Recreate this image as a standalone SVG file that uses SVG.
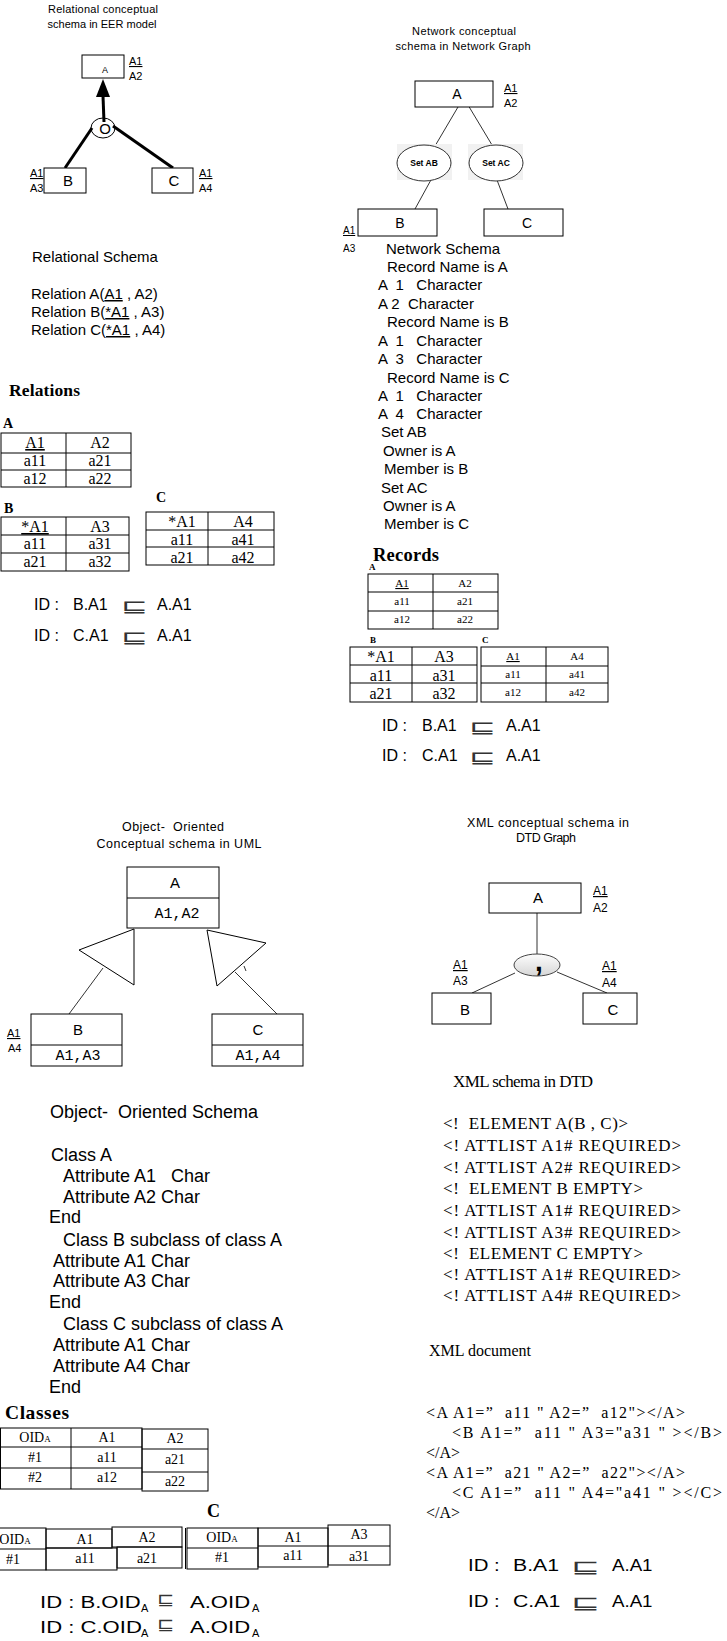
<svg xmlns="http://www.w3.org/2000/svg" width="727" height="1641" viewBox="0 0 727 1641">
<style>
.s{font-family:"Liberation Sans",Arial,sans-serif;fill:#000;white-space:pre}
.t{font-family:"Liberation Serif","Times New Roman",serif;fill:#000;white-space:pre}
.m{font-family:"Liberation Mono","Courier New",monospace;fill:#000}
.b{font-weight:bold}
.u{text-decoration:underline}
.mid{text-anchor:middle}
.box{fill:#fff;stroke:#000;stroke-width:1}
.ln{stroke:#333;stroke-width:1;fill:none}
.tk{stroke:#000;stroke-width:3;fill:none}
.tb{fill:none;stroke:#000;stroke-width:1}
.sym{font-family:"DejaVu Sans",sans-serif;fill:#333}
</style>
<defs>
<linearGradient id="gr" x1="0" y1="0" x2="0" y2="1">
<stop offset="0" stop-color="#fdfdfd"/>
<stop offset="1" stop-color="#d6d6d6"/>
</linearGradient>
</defs>
<rect width="727" height="1641" fill="#fff"/>

<!-- ===== Connectors ===== -->
<g id="connectors">
  <!-- EER -->
  <polygon points="103,79 96,97 110,97" fill="#000"/>
  <line class="tk" x1="103" y1="96" x2="104" y2="122"/>
  <line class="tk" x1="92" y1="128" x2="65" y2="168"/>
  <line class="tk" x1="113" y1="126" x2="173" y2="168"/>
  <!-- Network -->
  <line class="ln" x1="458" y1="107" x2="435" y2="146"/>
  <line class="ln" x1="468" y1="105" x2="498" y2="155"/>
  <line class="ln" x1="432" y1="178" x2="415" y2="209"/>
  <line class="ln" x1="497" y1="180" x2="508" y2="209"/>
  <!-- UML -->
  <polygon points="134,929 134,985 79,950" fill="#fff" stroke="#000" stroke-width="1"/>
  <polygon points="207,930 266,943 217,986" fill="#fff" stroke="#000" stroke-width="1"/>
  <line class="ln" x1="103" y1="968" x2="69" y2="1014"/>
  <line class="ln" x1="235" y1="972" x2="277" y2="1014"/>
  <line class="ln" x1="244" y1="966" x2="246" y2="971"/>
  <!-- DTD -->
  <line class="ln" x1="537" y1="913" x2="537" y2="955"/>
  <line class="ln" x1="515" y1="973" x2="472" y2="993"/>
  <line class="ln" x1="557" y1="972" x2="607" y2="993"/>
</g>

<!-- ===== EER diagram ===== -->
<g id="eer-title">
  <text class="s mid" x="103" y="13" font-size="11" textLength="110">Relational conceptual</text>
  <text class="s mid" x="102" y="28" font-size="11" textLength="109">schema in EER model</text>
</g>
<g id="eer-A">
  <rect class="box" x="82" y="55" width="42" height="23"/>
  <text class="s mid" x="105" y="73" font-size="9">A</text>
  <text class="s u" x="129" y="65" font-size="11">A1</text>
  <text class="s" x="129" y="80" font-size="11">A2</text>
</g>
<g id="eer-d">
  <ellipse cx="103" cy="128" rx="12" ry="10" fill="none" stroke="#000" stroke-width="1"/>
  <text class="s mid" x="105" y="134" font-size="15">O</text>
</g>
<g id="eer-B">
  <rect class="box" x="44" y="168" width="42" height="25"/>
  <text class="s mid" x="68" y="186" font-size="15">B</text>
  <text class="s u" x="30" y="177" font-size="11">A1</text>
  <text class="s" x="30" y="192" font-size="11">A3</text>
</g>
<g id="eer-C">
  <rect class="box" x="152" y="168" width="41" height="25"/>
  <text class="s mid" x="174" y="186" font-size="15">C</text>
  <text class="s u" x="199" y="177" font-size="11">A1</text>
  <text class="s" x="199" y="192" font-size="11">A4</text>
</g>

<!-- ===== Relational schema text ===== -->
<g id="relational-schema">
  <text class="s" x="32" y="262" font-size="15">Relational Schema</text>
  <text class="s" x="31" y="299" font-size="15">Relation A(<tspan class="u">A1</tspan> , A2)</text>
  <text class="s" x="31" y="317" font-size="15">Relation B(<tspan class="u">*A1</tspan> , A3)</text>
  <text class="s" x="31" y="335" font-size="15">Relation C(<tspan class="u">*A1</tspan> , A4)</text>
</g>

<g id="relations">
  <text class="t b" x="9" y="396" font-size="17.5" textLength="71">Relations</text>
  <text class="t b" x="3" y="428" font-size="14">A</text>
  <rect class="tb" x="1" y="433" width="130" height="54"/>
  <line class="tb" x1="1" y1="453" x2="131" y2="453"/>
  <line class="tb" x1="1" y1="470" x2="131" y2="470"/>
  <line class="tb" x1="66" y1="433" x2="66" y2="487"/>
  <text class="t mid u" x="35" y="448" font-size="16">A1</text>
  <text class="t mid" x="100" y="448" font-size="16">A2</text>
  <text class="t mid" x="35" y="466" font-size="16">a11</text>
  <text class="t mid" x="100" y="466" font-size="16">a21</text>
  <text class="t mid" x="35" y="484" font-size="16">a12</text>
  <text class="t mid" x="100" y="484" font-size="16">a22</text>

  <text class="t b" x="4" y="513" font-size="14">B</text>
  <rect class="tb" x="1" y="517" width="128" height="54"/>
  <line class="tb" x1="1" y1="535" x2="129" y2="535"/>
  <line class="tb" x1="1" y1="553" x2="129" y2="553"/>
  <line class="tb" x1="66" y1="517" x2="66" y2="571"/>
  <text class="t mid u" x="35" y="532" font-size="16">*A1</text>
  <text class="t mid" x="100" y="532" font-size="16">A3</text>
  <text class="t mid" x="35" y="549" font-size="16">a11</text>
  <text class="t mid" x="100" y="549" font-size="16">a31</text>
  <text class="t mid" x="35" y="567" font-size="16">a21</text>
  <text class="t mid" x="100" y="567" font-size="16">a32</text>

  <text class="t b" x="156" y="502" font-size="14">C</text>
  <rect class="tb" x="146" y="512" width="128" height="53"/>
  <line class="tb" x1="146" y1="530" x2="274" y2="530"/>
  <line class="tb" x1="146" y1="547" x2="274" y2="547"/>
  <line class="tb" x1="208" y1="512" x2="208" y2="565"/>
  <text class="t mid" x="182" y="527" font-size="16">*A1</text>
  <text class="t mid" x="243" y="527" font-size="16">A4</text>
  <text class="t mid" x="182" y="545" font-size="16">a11</text>
  <text class="t mid" x="243" y="545" font-size="16">a41</text>
  <text class="t mid" x="182" y="563" font-size="16">a21</text>
  <text class="t mid" x="243" y="563" font-size="16">a42</text>
</g>

<g id="relational-ids">
  <text class="s" x="34" y="610" font-size="16">ID :</text>
  <text class="s" x="73" y="610" font-size="16">B.A1</text>
  <text class="sym" font-size="20" transform="translate(121,612) scale(1.6,0.85)">⊑</text>
  <text class="s" x="157" y="610" font-size="16">A.A1</text>
  <text class="s" x="34" y="641" font-size="16">ID :</text>
  <text class="s" x="73" y="641" font-size="16">C.A1</text>
  <text class="sym" font-size="20" transform="translate(121,643) scale(1.6,0.85)">⊑</text>
  <text class="s" x="157" y="641" font-size="16">A.A1</text>
</g>

<!-- ===== Network diagram ===== -->
<g id="net-title">
  <text class="s mid" x="464" y="35" font-size="11" textLength="104">Network conceptual</text>
  <text class="s mid" x="463" y="50" font-size="11" textLength="135">schema in Network Graph</text>
</g>
<g id="net-A">
  <rect class="box" x="415" y="81" width="78" height="26"/>
  <text class="s mid" x="457" y="99" font-size="14">A</text>
  <text class="s u" x="504" y="92" font-size="11">A1</text>
  <text class="s" x="504" y="107" font-size="11">A2</text>
</g>
<g id="net-setAB">
  <rect x="397" y="144" width="55" height="36" fill="#f1f1f1"/>
  <ellipse cx="424" cy="163" rx="27" ry="18" fill="#fff" stroke="#333" stroke-width="1"/>
  <text class="s b mid" x="424" y="166" font-size="8.5">Set AB</text>
</g>
<g id="net-setAC">
  <rect x="468" y="144" width="55" height="36" fill="#f1f1f1"/>
  <ellipse cx="496" cy="163" rx="27" ry="18" fill="#fff" stroke="#333" stroke-width="1"/>
  <text class="s b mid" x="496" y="166" font-size="8.5">Set AC</text>
</g>
<g id="net-B">
  <rect class="box" x="358" y="209" width="79" height="27"/>
  <text class="s mid" x="400" y="228" font-size="14">B</text>
  <text class="s u" x="343" y="234" font-size="10">A1</text>
  <text class="s" x="343" y="252" font-size="10">A3</text>
</g>
<g id="net-C">
  <rect class="box" x="484" y="209" width="79" height="27"/>
  <text class="s mid" x="527" y="228" font-size="14">C</text>
</g>

<g id="network-schema">
  <text class="s" x="386" y="254" font-size="15">Network Schema</text>
  <text class="s" x="387" y="272" font-size="15">Record Name is A</text>
  <text class="s" x="378" y="290" font-size="15">A  1   Character</text>
  <text class="s" x="378" y="309" font-size="15">A 2  Character</text>
  <text class="s" x="387" y="327" font-size="15">Record Name is B</text>
  <text class="s" x="378" y="346" font-size="15">A  1   Character</text>
  <text class="s" x="378" y="364" font-size="15">A  3   Character</text>
  <text class="s" x="387" y="383" font-size="15">Record Name is C</text>
  <text class="s" x="378" y="401" font-size="15">A  1   Character</text>
  <text class="s" x="378" y="419" font-size="15">A  4   Character</text>
  <text class="s" x="381" y="437" font-size="15">Set AB</text>
  <text class="s" x="383" y="456" font-size="15">Owner is A</text>
  <text class="s" x="384" y="474" font-size="15">Member is B</text>
  <text class="s" x="381" y="493" font-size="15">Set AC</text>
  <text class="s" x="383" y="511" font-size="15">Owner is A</text>
  <text class="s" x="384" y="529" font-size="15">Member is C</text>
</g>

<g id="records">
  <text class="t b" x="373" y="561" font-size="18.5" textLength="66">Records</text>
  <text class="t b" x="369" y="570" font-size="9">A</text>
  <rect class="tb" x="368" y="574" width="130" height="55"/>
  <line class="tb" x1="368" y1="592" x2="498" y2="592"/>
  <line class="tb" x1="368" y1="611" x2="498" y2="611"/>
  <line class="tb" x1="433" y1="574" x2="433" y2="629"/>
  <text class="t mid u" x="402" y="587" font-size="11">A1</text>
  <text class="t mid" x="465" y="587" font-size="11">A2</text>
  <text class="t mid" x="402" y="605" font-size="11">a11</text>
  <text class="t mid" x="465" y="605" font-size="11">a21</text>
  <text class="t mid" x="402" y="623" font-size="11">a12</text>
  <text class="t mid" x="465" y="623" font-size="11">a22</text>

  <text class="t b" x="370" y="643" font-size="9">B</text>
  <rect class="tb" x="350" y="647" width="127" height="55"/>
  <line class="tb" x1="350" y1="665" x2="477" y2="665"/>
  <line class="tb" x1="350" y1="683" x2="477" y2="683"/>
  <line class="tb" x1="412" y1="647" x2="412" y2="702"/>
  <text class="t mid" x="381" y="662" font-size="16">*A1</text>
  <text class="t mid" x="444" y="662" font-size="16">A3</text>
  <text class="t mid" x="381" y="681" font-size="16">a11</text>
  <text class="t mid" x="444" y="681" font-size="16">a31</text>
  <text class="t mid" x="381" y="699" font-size="16">a21</text>
  <text class="t mid" x="444" y="699" font-size="16">a32</text>

  <text class="t b" x="482" y="643" font-size="9">C</text>
  <rect class="tb" x="481" y="647" width="127" height="55"/>
  <line class="tb" x1="481" y1="666" x2="608" y2="666"/>
  <line class="tb" x1="481" y1="683" x2="608" y2="683"/>
  <line class="tb" x1="546" y1="647" x2="546" y2="702"/>
  <text class="t mid u" x="513" y="660" font-size="11">A1</text>
  <text class="t mid" x="577" y="660" font-size="11">A4</text>
  <text class="t mid" x="513" y="678" font-size="11">a11</text>
  <text class="t mid" x="577" y="678" font-size="11">a41</text>
  <text class="t mid" x="513" y="696" font-size="11">a12</text>
  <text class="t mid" x="577" y="696" font-size="11">a42</text>
</g>

<g id="network-ids">
  <text class="s" x="382" y="731" font-size="16">ID :</text>
  <text class="s" x="422" y="731" font-size="16">B.A1</text>
  <text class="sym" font-size="20" transform="translate(469,733) scale(1.6,0.85)">⊑</text>
  <text class="s" x="506" y="731" font-size="16">A.A1</text>
  <text class="s" x="382" y="761" font-size="16">ID :</text>
  <text class="s" x="422" y="761" font-size="16">C.A1</text>
  <text class="sym" font-size="20" transform="translate(469,763) scale(1.6,0.85)">⊑</text>
  <text class="s" x="506" y="761" font-size="16">A.A1</text>
</g>

<!-- ===== UML diagram ===== -->
<g id="uml-title">
  <text class="s mid" x="173" y="831" font-size="12.5" textLength="102">Object-  Oriented</text>
  <text class="s mid" x="179" y="848" font-size="12.5" textLength="165">Conceptual schema in UML</text>
</g>
<g id="uml-A">
  <rect class="box" x="127" y="867" width="92" height="61"/>
  <line class="tb" x1="127" y1="898" x2="219" y2="898"/>
  <text class="s mid" x="175" y="888" font-size="15">A</text>
  <text class="m mid" x="177" y="918" font-size="15">A1,A2</text>
</g>
<g id="uml-B">
  <rect class="box" x="31" y="1014" width="91" height="52"/>
  <line class="tb" x1="31" y1="1045" x2="122" y2="1045"/>
  <text class="s mid" x="78" y="1035" font-size="15">B</text>
  <text class="m mid" x="78" y="1060" font-size="15">A1,A3</text>
  <text class="s u" x="7" y="1037" font-size="11">A1</text>
  <text class="s" x="8" y="1052" font-size="11">A4</text>
</g>
<g id="uml-C">
  <rect class="box" x="212" y="1014" width="91" height="52"/>
  <line class="tb" x1="212" y1="1045" x2="303" y2="1045"/>
  <text class="s mid" x="258" y="1035" font-size="15">C</text>
  <text class="m mid" x="258" y="1060" font-size="15">A1,A4</text>
</g>

<g id="oo-schema">
  <text class="s" x="50" y="1118" font-size="18">Object-  Oriented Schema</text>
  <text class="s" x="51" y="1161" font-size="18">Class A</text>
  <text class="s" x="63" y="1182" font-size="18">Attribute A1   Char</text>
  <text class="s" x="63" y="1203" font-size="18">Attribute A2 Char</text>
  <text class="s" x="49" y="1223" font-size="18">End</text>
  <text class="s" x="63" y="1246" font-size="18">Class B subclass of class A</text>
  <text class="s" x="53" y="1267" font-size="18">Attribute A1 Char</text>
  <text class="s" x="53" y="1287" font-size="18">Attribute A3 Char</text>
  <text class="s" x="49" y="1308" font-size="18">End</text>
  <text class="s" x="63" y="1330" font-size="18">Class C subclass of class A</text>
  <text class="s" x="53" y="1351" font-size="18">Attribute A1 Char</text>
  <text class="s" x="53" y="1372" font-size="18">Attribute A4 Char</text>
  <text class="s" x="49" y="1393" font-size="18">End</text>
</g>

<g id="classes">
  <text class="t b" x="5" y="1419" font-size="19.5" textLength="64">Classes</text>
  <rect class="tb" x="0.5" y="1428" width="141.5" height="61"/>
  <line class="tb" x1="71" y1="1428" x2="71" y2="1489"/>
  <line class="tb" x1="0.5" y1="1447" x2="142" y2="1447"/>
  <line class="tb" x1="0.5" y1="1468" x2="142" y2="1468"/>
  <rect class="tb" x="142" y="1429" width="66" height="62"/>
  <line class="tb" x1="142" y1="1449" x2="208" y2="1449"/>
  <line class="tb" x1="142" y1="1472" x2="208" y2="1472"/>
  <text class="t mid" x="35" y="1442" font-size="14">OID<tspan font-size="9">A</tspan></text>
  <text class="t mid" x="107" y="1442" font-size="14">A1</text>
  <text class="t mid" x="175" y="1443" font-size="14">A2</text>
  <text class="t mid" x="35" y="1462" font-size="14">#1</text>
  <text class="t mid" x="107" y="1462" font-size="14">a11</text>
  <text class="t mid" x="175" y="1464" font-size="14">a21</text>
  <text class="t mid" x="35" y="1482" font-size="14">#2</text>
  <text class="t mid" x="107" y="1482" font-size="14">a12</text>
  <text class="t mid" x="175" y="1486" font-size="14">a22</text>

  <rect class="tb" x="-15" y="1528" width="61" height="42"/>
  <line class="tb" x1="-15" y1="1549" x2="46" y2="1549"/>
  <rect class="tb" x="46" y="1529" width="66" height="19"/>
  <rect class="tb" x="46" y="1548" width="71" height="22"/>
  <rect class="tb" x="112" y="1527" width="70" height="20"/>
  <rect class="tb" x="117" y="1547" width="65" height="21"/>
  <text class="t mid" x="15" y="1544" font-size="14">OID<tspan font-size="9">A</tspan></text>
  <text class="t mid" x="13" y="1564" font-size="14">#1</text>
  <text class="t mid" x="85" y="1544" font-size="14">A1</text>
  <text class="t mid" x="147" y="1542" font-size="14">A2</text>
  <text class="t mid" x="85" y="1563" font-size="14">a11</text>
  <text class="t mid" x="147" y="1563" font-size="14">a21</text>

  <text class="t b" x="207" y="1517" font-size="18">C</text>
  <line class="tb" x1="185.5" y1="1528" x2="185.5" y2="1569"/>
  <rect class="tb" x="187" y="1528" width="71" height="41"/>
  <line class="tb" x1="187" y1="1548" x2="258" y2="1548"/>
  <rect class="tb" x="258" y="1528" width="70" height="39"/>
  <line class="tb" x1="258" y1="1546" x2="328" y2="1546"/>
  <rect class="tb" x="328" y="1525" width="62" height="40"/>
  <line class="tb" x1="328" y1="1546" x2="390" y2="1546"/>
  <text class="t mid" x="222" y="1542" font-size="14">OID<tspan font-size="9">A</tspan></text>
  <text class="t mid" x="293" y="1542" font-size="14">A1</text>
  <text class="t mid" x="359" y="1539" font-size="14">A3</text>
  <text class="t mid" x="222" y="1562" font-size="14">#1</text>
  <text class="t mid" x="293" y="1560" font-size="14">a11</text>
  <text class="t mid" x="359" y="1561" font-size="14">a31</text>
</g>

<g id="oo-ids">
  <text class="s" font-size="17" transform="translate(40,1608) scale(1.3,1)">ID : B.OID</text>
  <text class="s" x="141" y="1612" font-size="11">A</text>
  <text class="sym" font-size="18" transform="translate(157,1605) scale(1.15,0.9)">⊑</text>
  <text class="s" font-size="17" transform="translate(190,1608) scale(1.3,1)">A.OID</text>
  <text class="s" x="252" y="1612" font-size="11">A</text>
  <text class="s" font-size="17" transform="translate(40,1633) scale(1.3,1)">ID : C.OID</text>
  <text class="s" x="141" y="1637" font-size="11">A</text>
  <text class="sym" font-size="18" transform="translate(157,1630) scale(1.15,0.9)">⊑</text>
  <text class="s" font-size="17" transform="translate(190,1633) scale(1.3,1)">A.OID</text>
  <text class="s" x="252" y="1637" font-size="11">A</text>
</g>

<!-- ===== DTD graph ===== -->
<g id="dtd-title">
  <text class="s mid" x="548" y="827" font-size="12.5" textLength="162">XML conceptual schema in</text>
  <text class="s mid" x="546" y="842" font-size="12.5" textLength="60">DTD Graph</text>
</g>
<g id="dtd-A">
  <rect class="box" x="489" y="883" width="92" height="30"/>
  <text class="s mid" x="538" y="903" font-size="15">A</text>
  <text class="s u" x="593" y="895" font-size="12">A1</text>
  <text class="s" x="593" y="912" font-size="12">A2</text>
</g>
<g id="dtd-seq">
  <ellipse cx="537" cy="965" rx="23" ry="11" fill="url(#gr)" stroke="#444" stroke-width="1"/>
  <text class="s b mid" x="539" y="971" font-size="28">,</text>
</g>
<g id="dtd-B">
  <rect class="box" x="432" y="993" width="59" height="31"/>
  <text class="s mid" x="465" y="1015" font-size="15">B</text>
  <text class="s u" x="453" y="969" font-size="12">A1</text>
  <text class="s" x="453" y="985" font-size="12">A3</text>
</g>
<g id="dtd-C">
  <rect class="box" x="583" y="993" width="54" height="31"/>
  <text class="s mid" x="613" y="1015" font-size="15">C</text>
  <text class="s u" x="602" y="970" font-size="12">A1</text>
  <text class="s" x="602" y="987" font-size="12">A4</text>
</g>

<g id="dtd-schema">
  <text class="t" x="453" y="1087" font-size="17" textLength="140">XML schema in DTD</text>
  <text class="t" x="443" y="1129" font-size="17" textLength="185">&lt;!  ELEMENT A(B , C)&gt;</text>
  <text class="t" x="443" y="1151" font-size="17" textLength="238">&lt;! ATTLIST A1# REQUIRED&gt;</text>
  <text class="t" x="443" y="1173" font-size="17" textLength="238">&lt;! ATTLIST A2# REQUIRED&gt;</text>
  <text class="t" x="443" y="1194" font-size="17" textLength="200">&lt;!  ELEMENT B EMPTY&gt;</text>
  <text class="t" x="443" y="1216" font-size="17" textLength="238">&lt;! ATTLIST A1# REQUIRED&gt;</text>
  <text class="t" x="443" y="1238" font-size="17" textLength="238">&lt;! ATTLIST A3# REQUIRED&gt;</text>
  <text class="t" x="443" y="1259" font-size="17" textLength="200">&lt;!  ELEMENT C EMPTY&gt;</text>
  <text class="t" x="443" y="1280" font-size="17" textLength="238">&lt;! ATTLIST A1# REQUIRED&gt;</text>
  <text class="t" x="443" y="1301" font-size="17" textLength="238">&lt;! ATTLIST A4# REQUIRED&gt;</text>
</g>

<g id="xml-document">
  <text class="t" x="429" y="1356" font-size="16">XML document</text>
  <text class="t" x="426" y="1418" font-size="16" textLength="259">&lt;A A1=”  a11 " A2=”  a12"&gt;&lt;/A&gt;</text>
  <text class="t" x="452" y="1438" font-size="16" textLength="270">&lt;B A1=”  a11 " A3="a31 " &gt;&lt;/B&gt;</text>
  <text class="t" x="426" y="1458" font-size="16">&lt;/A&gt;</text>
  <text class="t" x="426" y="1478" font-size="16" textLength="259">&lt;A A1=”  a21 " A2=”  a22"&gt;&lt;/A&gt;</text>
  <text class="t" x="452" y="1498" font-size="16" textLength="270">&lt;C A1=”  a11 " A4="a41 " &gt;&lt;/C&gt;</text>
  <text class="t" x="426" y="1518" font-size="16">&lt;/A&gt;</text>
</g>

<g id="xml-ids">
  <text class="s" font-size="17" transform="translate(468,1571) scale(1.2,1)">ID :</text>
  <text class="s" font-size="17" transform="translate(513,1571) scale(1.25,1)">B.A1</text>
  <text class="sym" font-size="21" transform="translate(571,1573) scale(1.65,0.85)">⊑</text>
  <text class="s" font-size="17" transform="translate(612,1571) scale(1.1,1)">A.A1</text>
  <text class="s" font-size="17" transform="translate(468,1607) scale(1.2,1)">ID :</text>
  <text class="s" font-size="17" transform="translate(513,1607) scale(1.25,1)">C.A1</text>
  <text class="sym" font-size="21" transform="translate(571,1609) scale(1.65,0.85)">⊑</text>
  <text class="s" font-size="17" transform="translate(612,1607) scale(1.1,1)">A.A1</text>
</g>
</svg>
